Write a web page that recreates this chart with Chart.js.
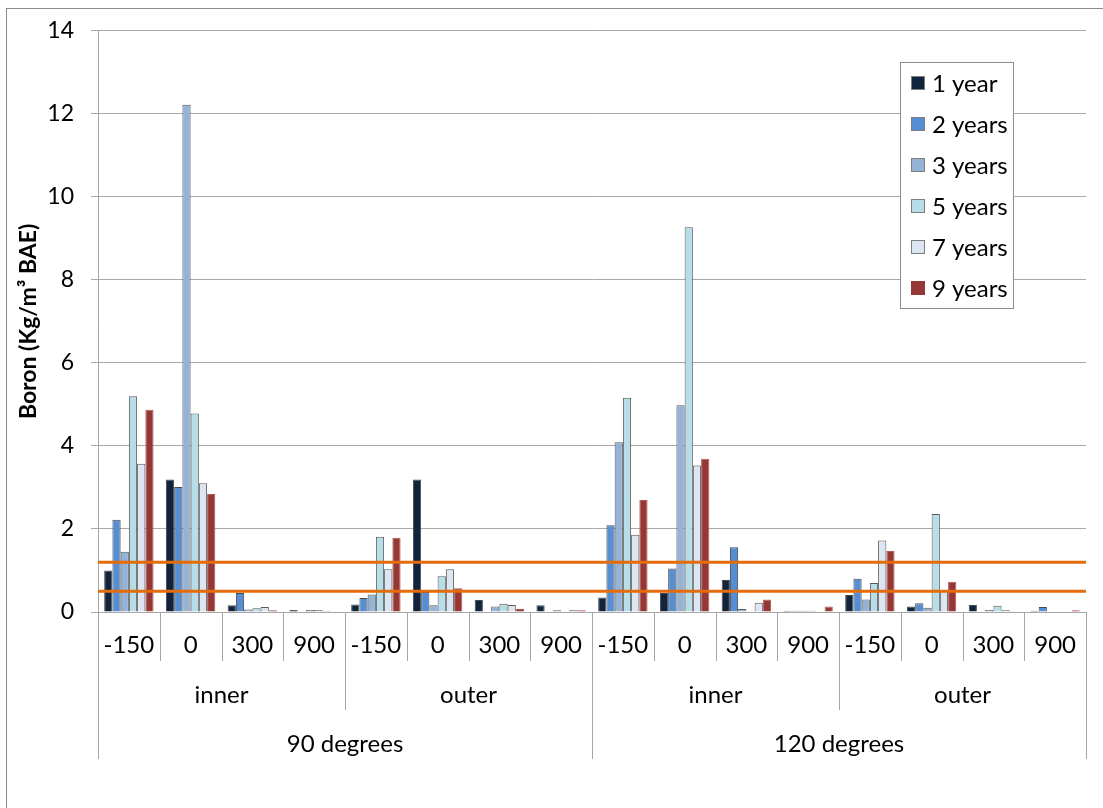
<!DOCTYPE html>
<html>
<head>
<meta charset="utf-8">
<script src="https://cdn.jsdelivr.net/npm/chart.js@4"></script>
<style>
  body { margin: 0; background: #fff; }
  #wrap { position: relative; width: 1103px; height: 808px; overflow: hidden; }
</style>
</head>
<body>
<div id="wrap"><canvas id="chart" width="1103" height="808"></canvas></div>
<script>
// --- data ---
const positions = ['-150', '0', '300', '900'];
const sides = ['inner', 'outer'];
const angles = ['90 degrees', '120 degrees'];

const seriesNames = ['1 year', '2 years', '3 years', '5 years', '7 years', '9 years'];
const year1 = [1.00, 3.19, 0.16, 0.05, 0.18, 3.19, 0.29, 0.16, 0.35, 0.46, 0.77, 0.03, 0.41, 0.13, 0.17, 0.03];
const year2 = [2.22, 3.01, 0.46, 0.01, 0.34, 0.48, 0.01, 0.01, 2.09, 1.05, 1.56, 0.03, 0.80, 0.21, 0.01, 0.12];
const year3 = [1.45, 12.22, 0.06, 0.05, 0.42, 0.16, 0.13, 0.04, 4.09, 4.98, 0.07, 0.03, 0.30, 0.10, 0.05, 0.02];
const year5 = [5.20, 4.78, 0.09, 0.05, 1.81, 0.86, 0.20, 0.01, 5.16, 9.27, 0.01, 0.03, 0.70, 2.36, 0.15, 0.01];
const year7 = [3.57, 3.10, 0.12, 0.03, 1.03, 1.03, 0.17, 0.05, 1.86, 3.53, 0.22, 0.01, 1.72, 0.50, 0.04, 0.01];
const year9 = [4.87, 2.84, 0.04, 0.01, 1.79, 0.57, 0.07, 0.04, 2.70, 3.69, 0.30, 0.13, 1.47, 0.73, 0.02, 0.04];

// reference levels (orange lines)
const limits = [1.2, 0.5];

const yTicks = [0, 2, 4, 6, 8, 10, 12, 14];

// --- styling ---
const FONT = 'Lato, "Open Sans", sans-serif';
const colors = ['#10243e', '#558ed5', '#95b3d7', '#b7dee8', '#dce6f2', '#953735'];
const borders = ['#4a4a4a', '#4a4a4a', '#5a5a5a', '#5a5a5a', '#5a5a5a', '#b05a58'];
const gridColor = '#a8a8a8';

// build the flat label list: angle > side > position
const labels = [];
angles.forEach(a => sides.forEach(s => positions.forEach(p => labels.push([a, s, p]))));

const allSeries = [year1, year2, year3, year5, year7, year9];

// outer frame like the spreadsheet chart box
const framePlugin = {
  id: 'frame',
  beforeDraw(chart) {
    const ctx = chart.ctx;
    ctx.save();
    ctx.strokeStyle = '#8c8c8c';
    ctx.lineWidth = 1;
    ctx.strokeRect(6.5, 8.5, 1200, 1200);
    ctx.restore();
  }
};

// orange limit lines
const limitPlugin = {
  id: 'limits',
  afterDatasetsDraw(chart) {
    const { ctx, chartArea, scales: { y } } = chart;
    ctx.save();
    ctx.strokeStyle = '#e46c0a';
    ctx.lineWidth = 3;
    limits.forEach(v => {
      const py = y.getPixelForValue(v);
      ctx.beginPath();
      ctx.moveTo(chartArea.left, py);
      ctx.lineTo(chartArea.right, py);
      ctx.stroke();
    });
    ctx.restore();
  }
};

// multi-level category axis under the plot
const groupAxisPlugin = {
  id: 'groupAxis',
  afterDraw(chart) {
    const { ctx, chartArea, scales: { x } } = chart;
    const n = labels.length;
    const bottom = chartArea.bottom;
    const edge = i => {
      if (i === 0) return chartArea.left;
      if (i === n) return chartArea.right;
      return (x.getPixelForValue(i - 1) + x.getPixelForValue(i)) / 2;
    };
    ctx.save();
    ctx.strokeStyle = '#a6a6a6';
    ctx.lineWidth = 1;
    for (let i = 0; i <= n; i++) {
      let len = 49;
      if (i % 4 === 0) len = 98;
      if (i % 8 === 0) len = 147;
      const px = Math.round(edge(i)) + 0.5;
      ctx.beginPath();
      ctx.moveTo(px, bottom);
      ctx.lineTo(px, bottom + len);
      ctx.stroke();
    }
    ctx.fillStyle = '#000';
    ctx.font = '24px ' + FONT;
    ctx.textAlign = 'center';
    ctx.textBaseline = 'middle';
    labels.forEach((l, i) => {
      ctx.fillText(l[2], x.getPixelForValue(i), bottom + 33);
    });
    for (let g = 0; g < n / 4; g++) {
      ctx.fillText(labels[g * 4][1], (edge(g * 4) + edge(g * 4 + 4)) / 2, bottom + 83);
    }
    for (let g = 0; g < n / 8; g++) {
      ctx.fillText(labels[g * 8][0], (edge(g * 8) + edge(g * 8 + 8)) / 2, bottom + 132);
    }
    ctx.restore();
  }
};

// legend box inside the plot, top right
const legendBoxPlugin = {
  id: 'legendBox',
  afterDatasetsDraw(chart) {
    const ctx = chart.ctx;
    const bx = 900.5, by = 62.5, bw = 113, bh = 246;
    ctx.save();
    ctx.fillStyle = '#fff';
    ctx.fillRect(bx, by, bw, bh);
    ctx.strokeStyle = '#8c8c8c';
    ctx.lineWidth = 1;
    ctx.strokeRect(bx, by, bw, bh);
    ctx.font = '24px ' + FONT;
    ctx.textAlign = 'left';
    ctx.textBaseline = 'middle';
    chart.data.datasets.forEach((ds, i) => {
      const cy = 83 + i * 41;
      ctx.fillStyle = ds.backgroundColor;
      ctx.fillRect(911, cy - 7, 14, 14);
      ctx.strokeStyle = i === 5 ? ds.backgroundColor : '#7f7f7f';
      ctx.strokeRect(911.5, cy - 6.5, 13, 13);
      ctx.fillStyle = '#000';
      ctx.fillText(ds.label, 932, cy + 1);
    });
    ctx.restore();
  }
};

new Chart(document.getElementById('chart'), {
  type: 'bar',
  data: {
    labels: labels,
    datasets: allSeries.map((vals, i) => ({
      label: seriesNames[i],
      data: vals,
      backgroundColor: colors[i],
      borderColor: borders[i],
      borderWidth: 1,
      barPercentage: 1.0,
      categoryPercentage: 0.8
    }))
  },
  options: {
    responsive: false,
    animation: false,
    layout: { padding: { top: 30, right: 17, left: 0, bottom: 0 } },
    plugins: {
      legend: { display: false },
      tooltip: { enabled: false }
    },
    scales: {
      x: {
        ticks: { display: false },
        grid: { display: false },
        border: { display: true, color: '#a6a6a6', width: 1 },
        afterFit(scale) { scale.height = 196; }
      },
      y: {
        min: 0,
        max: 14,
        afterBuildTicks(scale) { scale.ticks = yTicks.map(v => ({ value: v })); },
        ticks: {
          color: '#000',
          font: { family: FONT, size: 23 },
          padding: 17
        },
        grid: { color: gridColor, lineWidth: 1, tickLength: 7 },
        border: { display: true, color: '#a6a6a6', width: 1 },
        title: {
          display: true,
          text: 'Boron (Kg/m³ BAE)',
          color: '#000',
          font: { family: FONT, size: 23, weight: 'bold' },
          padding: { top: 15, bottom: 0 }
        },
        afterFit(scale) { scale.width = 98; }
      }
    }
  },
  plugins: [framePlugin, limitPlugin, legendBoxPlugin, groupAxisPlugin]
});
</script>
</body>
</html>
